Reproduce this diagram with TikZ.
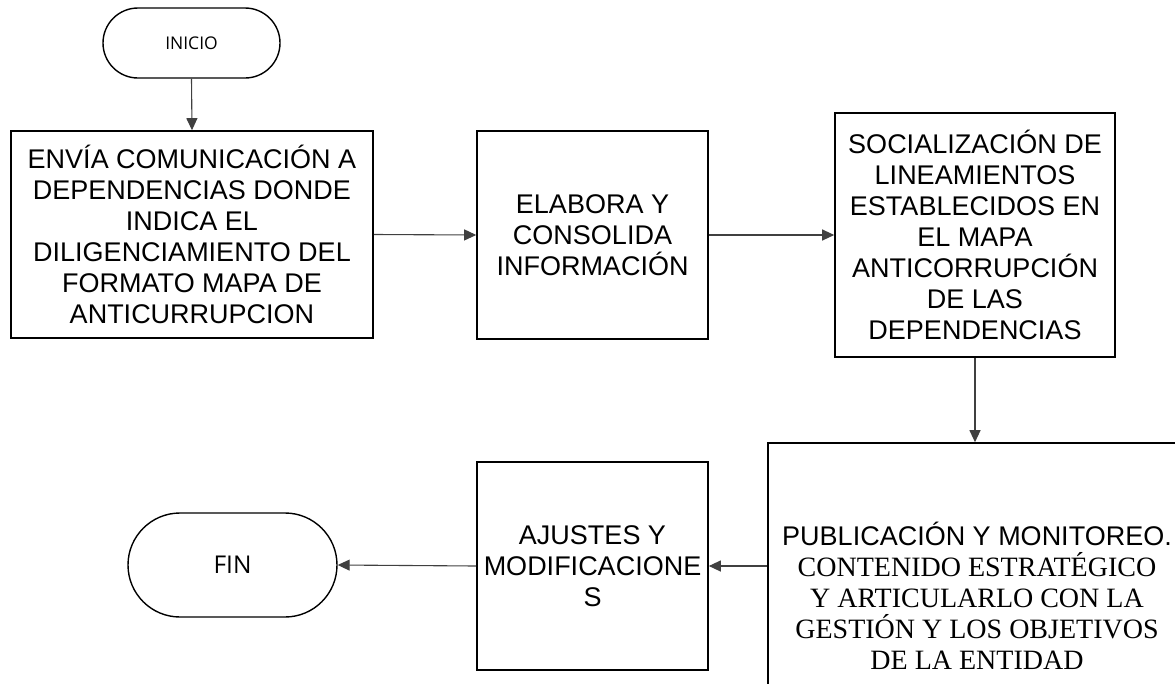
\documentclass[tikz,border=0pt]{standalone}
\usepackage{xcolor}
\usepackage{fontspec}
\usetikzlibrary{shapes.misc,arrows.meta}
\newfontfamily\arialf{Liberation Sans}
\newfontfamily\timesf{Liberation Serif}
\newfontfamily\opensf{Open Sans}

\tikzset{
	caja/.style = {draw, line width=1.6pt, rectangle, inner sep=0pt, align=center,
		font=\arialf\fontsize{27}{31}\selectfont},
	terminal/.style = {draw, line width=1.4pt, rounded rectangle, inner sep=0pt, align=center},
	flecha/.style = {-{Triangle[length=12pt,width=11pt]}, line width=1.1pt, black!75}
}

\begin{document}
\begin{tikzpicture}[x=1pt,y=-1pt]
				% marco de la figura
				\clip (0,0) rectangle (1175,683);
				
				\node[terminal, minimum width=177pt, minimum height=70pt, font=\opensf\fontsize{17.5}{20}\selectfont]
					(inicio) at (191.5,43) {INICIO};
				
				\node[caja, minimum width=362pt, minimum height=207pt] (envia) at (192,234.5)
					{ENVÍA COMUNICACIÓN A\\DEPENDENCIAS DONDE\\INDICA EL\\DILIGENCIAMIENTO DEL\\FORMATO MAPA DE\\ANTICURRUPCION};
				
				\node[caja, minimum width=231pt, minimum height=208pt] (elabora) at (592.5,235)
					{ELABORA Y\\CONSOLIDA\\INFORMACIÓN};
				
				\node[caja, minimum width=280pt, minimum height=244pt] (socializa) at (975,235)
					{SOCIALIZACIÓN DE\\LINEAMIENTOS\\ESTABLECIDOS EN\\EL MAPA\\ANTICORRUPCIÓN\\DE LAS\\DEPENDENCIAS};
				
				\node[caja, minimum width=418pt, minimum height=306pt] (publica) at (977,596)
					{PUBLICACIÓN Y MONITOREO.\\
					{\timesf\fontsize{28}{31.5}\selectfont CONTENIDO ESTRATÉGICO}\\
					{\timesf\fontsize{28}{31.5}\selectfont Y ARTICULARLO CON LA}\\
					{\timesf\fontsize{28}{31.5}\selectfont GESTIÓN Y LOS OBJETIVOS}\\
					{\timesf\fontsize{28}{31.5}\selectfont DE LA ENTIDAD}};
				
				\node[caja, minimum width=231pt, minimum height=208pt] (ajustes) at (592.5,566)
					{AJUSTES Y\\MODIFICACIONE\\S};
				
				\node[terminal, minimum width=209pt, minimum height=104pt, font=\opensf\fontsize{24.5}{28}\selectfont]
					(fin) at (232.5,565) {FIN};
				
				% conectores
				\draw[flecha] (inicio.south) -- (envia.north);
				\draw[flecha] (envia.east) -- (elabora.west);
				\draw[flecha] (elabora.east) -- (socializa.west);
				\draw[flecha] (socializa.south) -- (socializa.south |- publica.north);
				\draw[flecha] (ajustes.east -| publica.west) -- (ajustes.east);
				\draw[flecha] (ajustes.west) -- (fin.east);
				
			\end{tikzpicture}
\end{document}
